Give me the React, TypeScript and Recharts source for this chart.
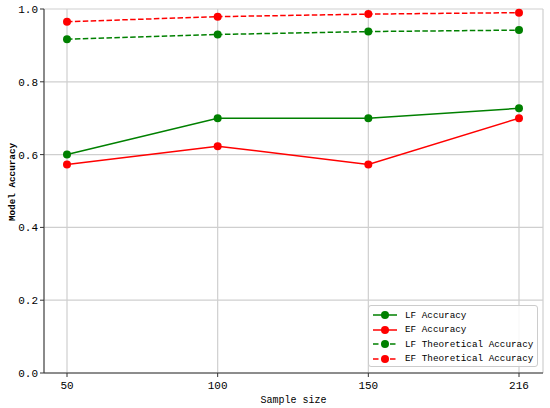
import { LineChart, Line, XAxis, YAxis, CartesianGrid, Legend } from "recharts"

const sampleSizes = ["50", "100", "150", "216"]
const lfAccuracy = [0.6, 0.7, 0.7, 0.727]
const efAccuracy = [0.573, 0.623, 0.573, 0.7]
const lfTheoretical = [0.917, 0.93, 0.938, 0.942]
const efTheoretical = [0.965, 0.979, 0.986, 0.99]
const yTicks = [0, 0.2, 0.4, 0.6, 0.8, 1.0]

const data = sampleSizes.map((s, i) => ({
  size: s,
  lf: lfAccuracy[i],
  ef: efAccuracy[i],
  lft: lfTheoretical[i],
  eft: efTheoretical[i],
}))

const FONT = "'Liberation Mono', 'DejaVu Sans Mono', monospace"
const GREEN = "#008000"
const RED = "#ff0000"
const DASH = "5.5 2.4"

const series = [
  { key: "lf", name: "LF Accuracy", color: GREEN, dash: undefined },
  { key: "ef", name: "EF Accuracy", color: RED, dash: undefined },
  { key: "lft", name: "LF Theoretical Accuracy", color: GREEN, dash: DASH },
  { key: "eft", name: "EF Theoretical Accuracy", color: RED, dash: DASH },
]

/* ── legend box ── */
function LegendBox() {
  return (
    <div
      style={{
        border: "1px solid #cccccc",
        borderRadius: 3,
        background: "rgba(255,255,255,0.85)",
        padding: "2px 0 2px 0",
        boxSizing: "border-box",
        width: 170,
        height: 62,
      }}
    >
      {series.map((s) => (
        <div key={s.key} style={{ display: "flex", alignItems: "center", height: 14.5 }}>
          <svg width={36} height={12} style={{ flexShrink: 0 }}>
            <line x1={4} y1={6} x2={28} y2={6} stroke={s.color} strokeWidth={1.5} strokeDasharray={s.dash ? "5.5 3" : undefined} />
            <circle cx={16} cy={6} r={4} fill={s.color} />
          </svg>
          <span style={{ fontFamily: FONT, fontSize: 9.3, color: "#000", whiteSpace: "nowrap" }}>{s.name}</span>
        </div>
      ))}
    </div>
  )
}

// eslint-disable-next-line @typescript-eslint/no-explicit-any
function YLabel({ viewBox }: any) {
  const x = 12
  const y = (viewBox?.y ?? 9) + (viewBox?.height ?? 364) / 2 - 9
  return (
    <text
      x={x}
      y={y}
      transform={`rotate(-90, ${x}, ${y})`}
      textAnchor="middle"
      dominantBaseline="central"
      style={{ fontFamily: FONT, fontSize: 9.3, fontWeight: "bold", fill: "#000" }}
    >
      Model Accuracy
    </text>
  )
}

export default function App() {
  const tick = { fontFamily: FONT, fontSize: 11, fill: "#000" }
  return (
    <div style={{ position: "absolute", left: 0, top: 0, width: 550, height: 408, background: "#fff" }}>
      <LineChart width={550} height={408} data={data} margin={{ top: 9, right: 7, left: 0, bottom: 0 }}>
        <CartesianGrid stroke="#cfcfcf" strokeWidth={1.2} />
        <XAxis
          dataKey="size"
          padding={{ left: 23, right: 24 }}
          height={35}
          tick={{ ...tick, dy: 2 }}
          tickLine={{ stroke: "#333" }}
          tickSize={4}
          axisLine={{ stroke: "#333" }}
          label={{ value: "Sample size", position: "insideBottom", offset: 5, style: { fontFamily: FONT, fontSize: 10, fill: "#000" } }}
        />
        <XAxis xAxisId="top" orientation="top" dataKey="size" height={0} tick={false} tickLine={false} axisLine={{ stroke: "#333" }} />
        <YAxis
          domain={[0, 1]}
          ticks={yTicks}
          width={44}
          tickFormatter={(v: number) => v.toFixed(1)}
          tick={tick}
          tickLine={{ stroke: "#333" }}
          tickSize={4}
          axisLine={{ stroke: "#333" }}
          label={<YLabel />}
        />
        <YAxis yAxisId="right" orientation="right" domain={[0, 1]} width={0} tick={false} tickLine={false} axisLine={{ stroke: "#333" }} />
        <Legend
          layout="vertical"
          align="center"
          verticalAlign="middle"
          content={<LegendBox />}
          wrapperStyle={{ position: "absolute", left: 368, top: 305, width: 170, height: 62 }}
        />
        {series.map((s) => (
          <Line
            key={s.key}
            dataKey={s.key}
            name={s.name}
            type="linear"
            stroke={s.color}
            strokeWidth={1.5}
            strokeDasharray={s.dash}
            dot={{ r: 4, fill: s.color, stroke: s.color, strokeWidth: 0 }}
            activeDot={false}
            isAnimationActive={false}
          />
        ))}
      </LineChart>
    </div>
  )
}
